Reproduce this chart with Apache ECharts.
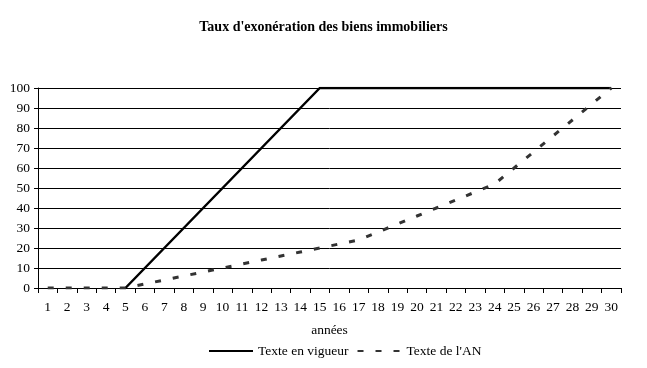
<!DOCTYPE html>
<html>
<head>
<meta charset="utf-8">
<script src="https://cdn.jsdelivr.net/npm/echarts@6/dist/echarts.min.js"></script>
<style>html,body{margin:0;padding:0;background:#fff}#c{width:647px;height:368px}</style>
</head>
<body>
<div id="c"></div>
<script>
const titleText = "Taux d'exonération des biens immobiliers";
const years = ['1','2','3','4','5','6','7','8','9','10','11','12','13','14','15','16','17','18','19','20','21','22','23','24','25','26','27','28','29','30'];
const texteEnVigueur = [null,null,null,null,0,10,20,30,40,50,60,70,80,90,100,100,100,100,100,100,100,100,100,100,100,100,100,100,100,100];
const texteAN = [0,0,0,0,0,2,4,6,8,10,12,14,16,18,20,22,24,28,32,36,40,44,48,52,60,68,76,84,92,100];
const yTicks = {min:0, max:100, interval:10};

const font = '"Liberation Serif", "Times New Roman", serif';
const chart = echarts.init(document.getElementById('c'));
chart.setOption({
  animation: false,
  backgroundColor: '#fff',
  title: {
    text: titleText, left: 'center', top: 15,
    textStyle: {fontFamily: font, fontSize: 14, fontWeight: 'bold', color: '#000'}
  },
  grid: {left: 38, right: 26, top: 88, bottom: 80},
  legend: {
    left: 203, top: 339, itemWidth: 44, itemHeight: 12, itemGap: 8,
    itemStyle: {opacity: 0},
    textStyle: {fontFamily: font, fontSize: 13.5, color: '#000'},
    data: ['Texte en vigueur', "Texte de l'AN"]
  },
  xAxis: {
    type: 'category', data: years, boundaryGap: true,
    name: 'années', nameLocation: 'middle', nameGap: 35,
    nameTextStyle: {fontFamily: font, fontSize: 13.5, color: '#000'},
    axisLine: {lineStyle: {color: '#000', width: 1}},
    axisTick: {show: true, length: 5, lineStyle: {color: '#000'}},
    axisLabel: {fontFamily: font, fontSize: 13.5, color: '#000', margin: 12, interval: 0},
    splitLine: {show: false}
  },
  yAxis: {
    type: 'value', min: yTicks.min, max: yTicks.max, interval: yTicks.interval,
    axisLine: {show: true, lineStyle: {color: '#000', width: 1}},
    axisTick: {show: true, length: 4, lineStyle: {color: '#000'}},
    axisLabel: {fontFamily: font, fontSize: 13.5, color: '#000', margin: 8},
    splitLine: {show: true, lineStyle: {color: '#000', width: 1}}
  },
  series: [
    {
      name: 'Texte en vigueur', type: 'line', data: texteEnVigueur,
      symbol: 'none', showSymbol: false, connectNulls: false,
      itemStyle: {color: '#000'},
      lineStyle: {color: '#000', width: 2.5, type: 'solid'}
    },
    {
      name: "Texte de l'AN", type: 'line', data: texteAN,
      symbol: 'none', showSymbol: false,
      itemStyle: {color: '#333'},
      lineStyle: {color: '#333', width: 3, type: [6, 12]}
    }
  ]
});
</script>
</body>
</html>
